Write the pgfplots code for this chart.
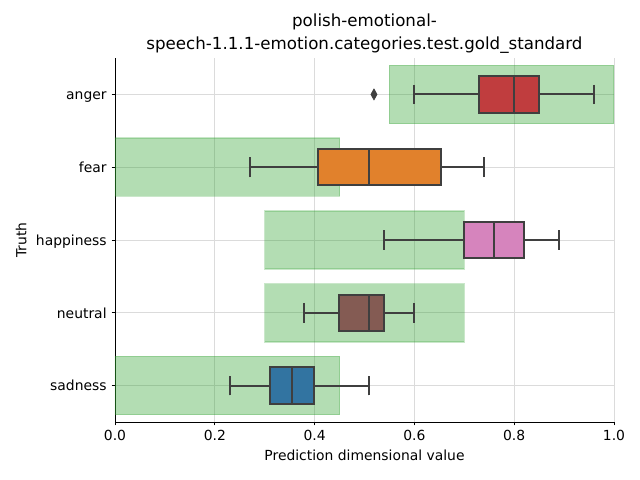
\documentclass[border=0pt]{standalone}
\usepackage{fontspec}
\setmainfont{DejaVu Sans}
\usepackage{pgfplots}
\pgfplotsset{compat=1.18}
\usepgfplotslibrary{statistics}

\definecolor{angerc}{HTML}{C03D3E}
\definecolor{fearc}{HTML}{E1812C}
\definecolor{happyc}{HTML}{D684BD}
\definecolor{neutralc}{HTML}{845B53}
\definecolor{sadc}{HTML}{3274A1}
\definecolor{edgec}{HTML}{3F3F3F}
\definecolor{truthc}{HTML}{2CA02C}

\begin{document}
\begin{tikzpicture}
\begin{axis}[
    scale only axis,
    width=359.28pt, height=262.08pt,
    xmin=0, xmax=1, ymin=-0.5, ymax=4.5,
    axis lines*=left,
    axis line style={black, line width=0.6pt},
    tick align=outside,
    tick style={black, line width=0.6pt},
    major tick length=2.5pt,
    xtick={0,0.2,0.4,0.6,0.8,1},
    ytick={0,1,2,3,4},
    yticklabels={sadness,neutral,happiness,fear,anger},
    yticklabel style={anchor=base east, yshift=-3.8pt},
    xticklabel style={/pgf/number format/fixed, /pgf/number format/fixed zerofill, /pgf/number format/precision=1},
    /pgf/number format/assume math mode=true,
    grid=major,
    grid style={draw=black!14, line width=0.6pt},
    ticklabel style={font=\fontsize{10}{12}\selectfont},
    label style={font=\fontsize{10}{12}\selectfont},
    xlabel={Prediction dimensional value},
    ylabel={Truth},
    title={polish-emotional-\\speech-1.1.1-emotion.categories.test.gold\_standard},
    title style={font=\fontsize{12}{16}\selectfont, align=center, yshift=-6pt},
    boxplot/draw direction=x,
]
% gold standard ranges
\addplot[fill=truthc, fill opacity=0.36, draw=truthc, draw opacity=0.25, line width=1pt]
    coordinates {(0.55,3.6) (1,3.6) (1,4.4) (0.55,4.4)} -- cycle;
\addplot[fill=truthc, fill opacity=0.36, draw=truthc, draw opacity=0.25, line width=1pt]
    coordinates {(0,2.6) (0.45,2.6) (0.45,3.4) (0,3.4)} -- cycle;
\addplot[fill=truthc, fill opacity=0.36, draw=truthc, draw opacity=0.25, line width=1pt]
    coordinates {(0.3,1.6) (0.7,1.6) (0.7,2.4) (0.3,2.4)} -- cycle;
\addplot[fill=truthc, fill opacity=0.36, draw=truthc, draw opacity=0.25, line width=1pt]
    coordinates {(0.3,0.6) (0.7,0.6) (0.7,1.4) (0.3,1.4)} -- cycle;
\addplot[fill=truthc, fill opacity=0.36, draw=truthc, draw opacity=0.25, line width=1pt]
    coordinates {(0,-0.4) (0.45,-0.4) (0.45,0.4) (0,0.4)} -- cycle;

% predictions
\addplot[boxplot prepared={lower whisker=0.60, lower quartile=0.73, median=0.80, upper quartile=0.85, upper whisker=0.96, draw position=4, box extend=0.5, whisker extend=0.27},
    fill=angerc, draw=edgec, line width=1.35pt]
    coordinates {};
\addplot[boxplot prepared={lower whisker=0.27, lower quartile=0.407, median=0.509, upper quartile=0.653, upper whisker=0.74, draw position=3, box extend=0.5, whisker extend=0.27},
    fill=fearc, draw=edgec, line width=1.35pt]
    coordinates {};
\addplot[boxplot prepared={lower whisker=0.539, lower quartile=0.699, median=0.76, upper quartile=0.82, upper whisker=0.89, draw position=2, box extend=0.5, whisker extend=0.27},
    fill=happyc, draw=edgec, line width=1.35pt]
    coordinates {};
\addplot[boxplot prepared={lower whisker=0.379, lower quartile=0.449, median=0.509, upper quartile=0.539, upper whisker=0.599, draw position=1, box extend=0.5, whisker extend=0.27},
    fill=neutralc, draw=edgec, line width=1.35pt]
    coordinates {};
\addplot[boxplot prepared={lower whisker=0.23, lower quartile=0.311, median=0.355, upper quartile=0.399, upper whisker=0.509, draw position=0, box extend=0.5, whisker extend=0.27},
    fill=sadc, draw=edgec, line width=1.35pt]
    coordinates {};
% outlier
\addplot[only marks, mark=diamond*, mark size=4pt, mark options={fill=edgec, draw=edgec, xscale=0.75}]
    coordinates {(0.519,4)};
\end{axis}
\pgfresetboundingbox
\path[use as bounding box] (-82.8pt,-41.76pt) rectangle (378pt,303.84pt);
\end{tikzpicture}
\end{document}
